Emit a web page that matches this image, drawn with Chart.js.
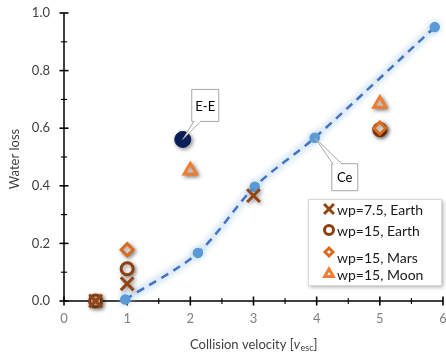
<!DOCTYPE html>
<html lang="en">
<head>
<meta charset="UTF-8">
<title>Water loss vs collision velocity</title>
<script src="https://cdn.jsdelivr.net/npm/chart.js"></script>
<style>
    body { margin: 0; background: #ffffff; }
    #wrap { width: 446px; height: 358px; }
</style>
</head>
<body>
<div id="wrap"><canvas id="chart"></canvas></div>
<script>
// fitted trend (blue dashed line)
const fitX = [0.97, 2.12, 3.02, 3.97, 5.87];
const fitY = [0.005, 0.167, 0.397, 0.567, 0.951];
// Earth-Earth case
const eeX = [1.88];
const eeY = [0.561];
// simulation groups
const wp75EarthX = [0.5, 1.0, 3.0];
const wp75EarthY = [0.0, 0.06, 0.366];
const wp15EarthX = [0.5, 1.0, 5.0];
const wp15EarthY = [0.0, 0.112, 0.595];
const wp15MarsX = [1.0, 5.0];
const wp15MarsY = [0.178, 0.60];
const wp15MoonX = [2.0, 5.0];
const wp15MoonY = [0.453, 0.685];
// axis ticks
const xTickLabels = [0, 1, 2, 3, 4, 5, 6];
const yTickLabels = [0.0, 0.2, 0.4, 0.6, 0.8, 1.0];
const legendOrder = ['wp=7.5, Earth', 'wp=15, Earth', 'wp=15, Mars', 'wp=15, Moon'];

const FONT = 'Lato, "DejaVu Sans", sans-serif';
const pts = (xs, ys) => xs.map((x, i) => ({ x: x, y: ys[i] }));

const decor = {
    id: 'decor',
    beforeDatasetDraw(chart, args) {
        const ds = chart.data.datasets[args.index];
        const c = chart.ctx;
        c.save();
        if (ds.shadow) {
            c.shadowColor = 'rgba(0,0,0,0.45)';
            c.shadowBlur = 4;
            c.shadowOffsetX = 1.5;
            c.shadowOffsetY = 1.5;
        }
        if (ds.glow) c.filter = 'blur(2.5px)';
    },
    afterDatasetDraw(chart) {
        chart.ctx.restore();
    },
    beforeDatasetsDraw(chart) {
        const c = chart.ctx;
        const xs = chart.scales.x, ys = chart.scales.y;
        const a = chart.chartArea;
        c.save();
        c.strokeStyle = '#000';
        c.lineWidth = 1.5;
        c.beginPath();
        c.moveTo(a.left, a.top); c.lineTo(a.left, a.bottom);
        c.moveTo(a.left, a.bottom); c.lineTo(a.right, a.bottom);
        c.stroke();
        ys.ticks.forEach(t => {
            const y = ys.getPixelForValue(t.value);
            const major = Math.round(t.value * 10) % 2 === 0;
            const l = major ? 4.5 : 3;
            c.lineWidth = major ? 1.6 : 1.1;
            c.beginPath(); c.moveTo(a.left - l, y); c.lineTo(a.left + l, y); c.stroke();
        });
        xs.ticks.forEach(t => {
            const x = xs.getPixelForValue(t.value);
            const major = Number.isInteger(t.value);
            const l = major ? 4.5 : 3;
            c.lineWidth = major ? 1.6 : 1.1;
            c.beginPath(); c.moveTo(x, a.bottom - l); c.lineTo(x, a.bottom + l); c.stroke();
        });
        c.restore();
    },
    afterDraw(chart) {
        const c = chart.ctx;
        const a = chart.chartArea;
        c.save();
        // axis titles
        c.fillStyle = '#404040';
        c.font = '13px ' + FONT;
        c.textBaseline = 'middle';
        c.save();
        c.translate(15, (a.top + a.bottom) / 2 + 2);
        c.rotate(-Math.PI / 2);
        c.textAlign = 'center';
        c.fillText('Water loss', 0, 0);
        c.restore();
        const p1 = 'Collision velocity [', p2 = 'v', p3 = 'esc', p4 = ']';
        c.font = '13px ' + FONT;
        const w1 = c.measureText(p1).width, w4 = c.measureText(p4).width;
        c.font = 'italic 13px ' + FONT;
        const w2 = c.measureText(p2).width;
        c.font = '9px ' + FONT;
        const w3 = c.measureText(p3).width;
        let x = (a.left + a.right) / 2 - (w1 + w2 + w3 + w4) / 2;
        const ty = 345;
        c.textAlign = 'left';
        c.font = '13px ' + FONT; c.fillText(p1, x, ty); x += w1;
        c.font = 'italic 13px ' + FONT; c.fillText(p2, x, ty); x += w2 + 0.5;
        c.font = '9px ' + FONT; c.fillText(p3, x, ty + 3); x += w3;
        c.font = '13px ' + FONT; c.fillText(p4, x, ty);

        // callouts
        const callout = (dsIndex, ptIndex, text, dx, dy, w, h, wedge) => {
            const el = chart.getDatasetMeta(dsIndex).data[ptIndex];
            const bx = el.x + dx, by = el.y + dy;
            c.fillStyle = '#fff';
            c.strokeStyle = '#a6a6a6';
            c.lineWidth = 1;
            c.beginPath();
            c.rect(bx, by, w, h);
            c.fill(); c.stroke();
            c.beginPath();
            c.moveTo(bx + wedge[0], by + wedge[2]);
            c.lineTo(el.x, el.y);
            c.lineTo(bx + wedge[1], by + wedge[2]);
            c.fillStyle = '#fff';
            c.fill(); c.stroke();
            c.fillStyle = '#fff';
            c.fillRect(bx + wedge[0] + 0.8, by + wedge[2] + (wedge[2] === 0 ? 0 : -1), wedge[1] - wedge[0] - 1.6, 2);
            c.fillStyle = '#000';
            c.font = '13px ' + FONT;
            c.textAlign = 'center';
            c.fillText(text, bx + w / 2, by + h / 2 + 1);
        };
        callout(0, 0, 'E-E', 9, -50, 27, 32, [2, 9, 32]);
        callout(5, 3, 'Ce', 17, 26, 26, 27, [1, 10, 0]);

        // legend
        const lx = 308, ly = 199, lw = 133, lh = 86;
        c.save();
        c.shadowColor = 'rgba(0,0,0,0.35)';
        c.shadowBlur = 4; c.shadowOffsetX = 1.5; c.shadowOffsetY = 1.5;
        c.fillStyle = '#fff';
        c.fillRect(lx, ly, lw, lh);
        c.restore();
        c.strokeStyle = '#d9d9d9'; c.lineWidth = 1;
        c.strokeRect(lx + 0.5, ly + 0.5, lw, lh);
        const rows = [[209, 209], [230, 230], [252, 257], [274, 274]];
        legendOrder.forEach((name, r) => {
            const ds = chart.data.datasets.find(d => d.label === name);
            const [my, tyy] = rows[r];
            c.fillStyle = ds.pointBackgroundColor;
            c.strokeStyle = ds.pointBorderColor;
            c.lineWidth = ds.pointBorderWidth;
            Chart.helpers.drawPoint(c, { pointStyle: ds.pointStyle, rotation: 0, radius: ds.legendRadius, borderWidth: ds.pointBorderWidth }, 329, my);
            c.fillStyle = '#1a1a1a';
            c.font = '14px ' + FONT;
            c.textAlign = 'left';
            c.fillText(name, 337, tyy + 1);
        });
        c.restore();
    }
};

new Chart(document.getElementById('chart'), {
    type: 'scatter',
    data: {
        datasets: [
            { label: 'E-E', data: pts(eeX, eeY), pointStyle: 'circle', pointRadius: 8, pointBackgroundColor: '#0b1f5c', pointBorderColor: '#0b1f5c', pointBorderWidth: 1, shadow: true, order: 1 },
            { label: 'wp=7.5, Earth', legendRadius: 7, data: pts(wp75EarthX, wp75EarthY), pointStyle: 'crossRot', pointRadius: 9, pointBackgroundColor: '#8e3f10', pointBorderColor: '#954514', pointBorderWidth: 3, shadow: true, order: 2 },
            { label: 'wp=15, Mars', legendRadius: 4, data: pts(wp15MarsX, wp15MarsY), pointStyle: 'rectRot', pointRadius: 6, pointBackgroundColor: '#ffffff', pointBorderColor: '#dd6a1c', pointBorderWidth: 3, shadow: true, order: 3 },
            { label: 'wp=15, Moon', legendRadius: 5, data: pts(wp15MoonX, wp15MoonY), pointStyle: 'triangle', pointRadius: 7, pointBackgroundColor: '#ffffff', pointBorderColor: '#ef7d31', pointBorderWidth: 3, shadow: true, order: 4 },
            { label: 'wp=15, Earth', legendRadius: 4.5, data: pts(wp15EarthX, wp15EarthY), pointStyle: 'circle', pointRadius: 6, pointBackgroundColor: '#ffffff', pointBorderColor: '#8e3f10', pointBorderWidth: 3, shadow: true, order: 5 },
            { label: 'fit', data: pts(fitX, fitY), showLine: true, tension: 0.3, borderColor: '#4472c4', borderWidth: 2.5, borderDash: [8, 6], pointRadius: 4, pointBackgroundColor: '#5b9bd5', pointBorderColor: '#5b9bd5', order: 10 },
            { label: 'glow', data: pts(fitX, fitY), showLine: true, tension: 0.3, borderColor: 'rgba(155,194,230,0.35)', borderWidth: 9, pointRadius: 7, pointBackgroundColor: 'rgba(155,194,230,0.35)', pointBorderWidth: 0, glow: true, order: 11 }
        ]
    },
    options: {
        responsive: true,
        maintainAspectRatio: false,
        animation: false,
        layout: { autoPadding: false, padding: { top: 13, right: 3, left: 0, bottom: 0 } },
        plugins: { legend: { display: false }, tooltip: { enabled: false } },
        datasets: { scatter: { clip: false } },
        scales: {
            x: {
                type: 'linear', min: 0, max: 6,
                grid: { display: false, drawTicks: false },
                border: { display: false },
                ticks: {
                    stepSize: 0.5, autoSkip: false, maxRotation: 0, padding: 10,
                    color: '#7f7f7f', font: { family: FONT, size: 13 },
                    callback: v => xTickLabels.includes(v) ? String(v) : ''
                },
                afterFit: s => { s.height = 57; s.paddingLeft = 0; s.paddingRight = 0; }
            },
            y: {
                type: 'linear', min: 0, max: 1,
                grid: { display: false, drawTicks: false },
                border: { display: false },
                ticks: {
                    stepSize: 0.1, autoSkip: false, padding: 14,
                    color: '#404040', font: { family: FONT, size: 13 },
                    callback: v => yTickLabels.some(t => Math.abs(t - v) < 1e-6) ? v.toFixed(1) : ''
                },
                afterFit: s => { s.width = 64; s.paddingTop = 0; s.paddingBottom = 0; }
            }
        }
    },
    plugins: [decor]
});
</script>
</body>
</html>
